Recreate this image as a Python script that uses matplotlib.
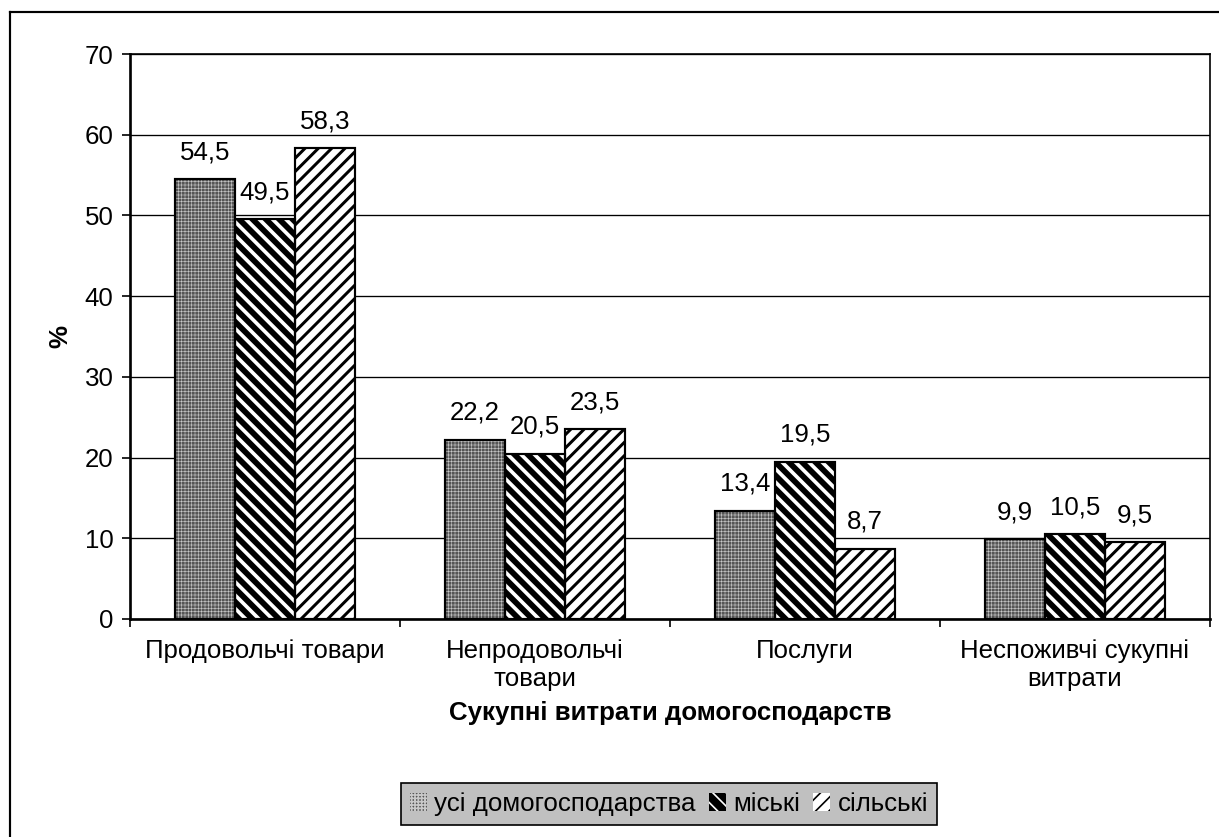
import numpy as np
import matplotlib
matplotlib.use("Agg")
import matplotlib.pyplot as plt
from matplotlib.patches import Patch
from matplotlib.lines import Line2D

categories = ['Продовольчі товари', 'Непродовольчі\nтовари', 'Послуги', 'Неспоживчі сукупні\nвитрати']
series_names = ['усі домогосподарства', 'міські', 'сільські']
all_households = [54.5, 22.2, 13.4, 9.9]
urban = [49.5, 20.5, 19.5, 10.5]
rural = [58.3, 23.5, 8.7, 9.5]

plt.rcParams['font.family'] = ['Liberation Sans', 'DejaVu Sans']
plt.rcParams['font.size'] = 15.5

DPI = 120
fig = plt.figure(figsize=(1219 / DPI, 837 / DPI), dpi=DPI)
ax = fig.add_axes([130 / 1219, 1 - 619 / 837, (1210 - 130) / 1219, (619 - 54) / 837])

# (face, hatch, hatch colour, hatch linewidth)
styles = [
    ('#555555', '++++++', '#c8c8c8', 0.35),
    ('black', '\\\\\\', 'white', 2.2),
    ('white', '///', 'black', 1.8),
]


def set_hlw(patch, lw):
    if hasattr(patch, 'set_hatch_linewidth'):
        patch.set_hatch_linewidth(lw)


x = np.arange(len(categories))
w = 60 / 270
data = [all_households, urban, rural]
handles = []
for i, vals in enumerate(data):
    face, hatch, hcol, hlw = styles[i]
    pos = x + (i - 1) * w
    with plt.rc_context({'hatch.linewidth': hlw}):
        bars = ax.bar(pos, vals, w, facecolor=face, edgecolor=hcol, hatch=hatch,
                      linewidth=0, zorder=3)
        for b in bars:
            set_hlw(b, hlw)
        ax.bar(pos, vals, w, fill=False, edgecolor='black', linewidth=1.3, zorder=4)
        ph = Patch(facecolor=face, edgecolor=hcol, hatch=hatch, linewidth=0)
        set_hlw(ph, hlw)
    handles.append(ph)
    for p, v in zip(pos, vals):
        ax.annotate(f'{v:.1f}'.replace('.', ','), (p, v), xytext=(0, 9),
                    textcoords='offset points', ha='center', va='bottom')

ax.set_xlim(-0.5, 3.5)
ax.set_ylim(0, 70)
ax.set_yticks(range(0, 71, 10))
ax.set_xticks(np.arange(-0.5, 4, 1))
ax.set_xticklabels([])
ax.set_xticks(x, minor=True)
ax.set_xticklabels(categories, minor=True)
ax.tick_params(axis='x', which='minor', length=0, pad=12)
ax.tick_params(axis='x', which='major', length=5, width=1, direction='out')
ax.tick_params(axis='y', length=5, width=1, direction='out', pad=5)
ax.grid(axis='y', color='black', linewidth=0.8, zorder=0)

for s in ['top', 'right']:
    ax.spines[s].set_linewidth(1.0)
for s in ['left', 'bottom']:
    ax.spines[s].set_linewidth(1.6)

ax.set_ylabel('%', fontweight='bold', labelpad=7)
ax.set_xlabel('Сукупні витрати домогосподарств', fontweight='bold', labelpad=6)

leg = fig.legend(handles, series_names, loc='center', bbox_to_anchor=(669 / 1219, 1 - 804 / 837),
                 ncol=3, frameon=True, fancybox=False, facecolor='#c0c0c0', edgecolor='black',
                 framealpha=1, handlelength=0.65, handleheight=0.65, handletextpad=0.3,
                 columnspacing=0.5, borderpad=0.35)
leg.get_frame().set_linewidth(1.0)

# outer chart border
fig.add_artist(Line2D([10 / 1219, 10 / 1219], [1 - 12 / 837, 0], transform=fig.transFigure,
                      color='black', linewidth=1.3))
fig.add_artist(Line2D([10 / 1219, 1], [1 - 12 / 837, 1 - 12 / 837], transform=fig.transFigure,
                      color='black', linewidth=1.3))

fig.savefig('out.png', dpi=DPI)
